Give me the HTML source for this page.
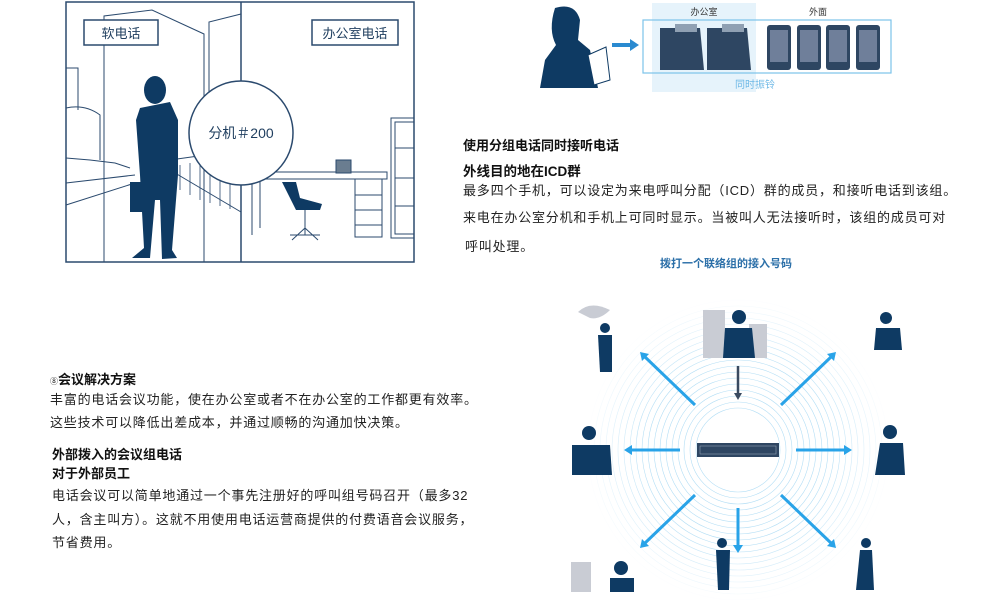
<!DOCTYPE html>
<html><head><meta charset="utf-8">
<style>
html,body{margin:0;padding:0;background:#fff;}
body{width:990px;height:600px;position:relative;overflow:hidden;font-family:"Liberation Sans","Noto Sans CJK SC",sans-serif;color:#222;}
.t{position:absolute;white-space:nowrap;font-size:13px;}
.b{font-weight:bold;color:#111;}
svg{position:absolute;left:0;top:0;}
</style></head><body>
<svg width="990" height="600" viewBox="0 0 990 600">
<defs>
<radialGradient id="fade" cx="0.5" cy="0.5" r="0.5"><stop offset="0.6" stop-color="#fff" stop-opacity="0"/><stop offset="1" stop-color="#fff" stop-opacity="1"/></radialGradient>
</defs>
<!-- left illustration -->
<g fill="none" stroke="#2b4a6e" stroke-width="1">
<rect x="66" y="2" width="348" height="260" stroke-width="1.5"/>
<line x1="241" y1="2" x2="241" y2="262" stroke-width="1.5"/>
<polyline points="104,262 104,16 152,10 204,34 204,262"/>
<polyline points="209,100 209,22 241,14"/>
<polyline points="66,68 78,68 78,110"/>
<path d="M66,108 Q85,104 100,115 L100,160"/>
<path d="M66,158 L90,160 L115,163 L130,168"/>
<line x1="66" y1="183" x2="135" y2="175"/>
<line x1="66" y1="205" x2="135" y2="183"/>
<line x1="170" y1="170" x2="241" y2="212"/>
<path d="M170,160 L241,150"/>
<g stroke-width="0.8"><line x1="180" y1="165" x2="180" y2="190"/><line x1="190" y1="163" x2="190" y2="195"/><line x1="200" y1="162" x2="200" y2="200"/><line x1="210" y1="161" x2="210" y2="203"/><line x1="220" y1="160" x2="220" y2="206"/><line x1="230" y1="160" x2="230" y2="209"/></g>
<rect x="255" y="172" width="132" height="7"/>
<line x1="252" y1="179" x2="252" y2="235"/><line x1="260" y1="179" x2="260" y2="228"/>
<rect x="355" y="179" width="27" height="58"/>
<line x1="355" y1="195" x2="382" y2="195"/><line x1="355" y1="210" x2="382" y2="210"/><line x1="355" y1="225" x2="382" y2="225"/>
<rect x="391" y="118" width="23" height="120"/>
<rect x="395" y="122" width="19" height="112"/>
<line x1="395" y1="148" x2="414" y2="148"/><line x1="395" y1="178" x2="414" y2="178"/><line x1="395" y1="206" x2="414" y2="206"/>
<path d="M305,202 L305,235 M290,235 L320,235 M305,228 L292,240 M305,228 L318,240"/>
</g>
<path d="M282,182 L296,182 L300,198 L322,204 L320,210 L296,210 Z" fill="#0e3a63"/>
<rect x="336" y="160" width="15" height="13" fill="#6a7d90" stroke="#2b4a6e"/>
<g fill="#0e3a63">
<ellipse cx="155" cy="90" rx="11" ry="14"/>
<path d="M140,108 L170,102 L178,120 L178,175 L172,250 L177,258 L162,259 L160,200 L155,200 L150,258 L132,258 L144,248 L140,175 L136,120 Z"/>
<rect x="130" y="182" width="12" height="30"/>
</g>
<rect x="84" y="20" width="74" height="25" fill="#fff" stroke="#2b4a6e" stroke-width="1.5"/>
<text x="121" y="38" font-size="13" fill="#1e3d5e" text-anchor="middle" font-family="Liberation Sans,Noto Sans CJK SC,sans-serif">软电话</text>
<rect x="312" y="20" width="86" height="25" fill="#fff" stroke="#2b4a6e" stroke-width="1.5"/>
<text x="355" y="38" font-size="13" fill="#1e3d5e" text-anchor="middle" font-family="Liberation Sans,Noto Sans CJK SC,sans-serif">办公室电话</text>
<circle cx="241" cy="133" r="52" fill="#fff" stroke="#2b4a6e" stroke-width="1.5"/>
<text x="241" y="138" font-size="14" fill="#1e3d5e" text-anchor="middle" font-family="Liberation Sans,Noto Sans CJK SC,sans-serif">分机＃200</text>

<!-- top right -->
<rect x="652" y="3" width="104" height="89" fill="#e6f3fb"/>
<rect x="643" y="20" width="248" height="53" fill="none" stroke="#7cc3ea" stroke-width="1.2"/>
<text x="704" y="15" font-size="9" fill="#333" text-anchor="middle" font-family="Liberation Sans,Noto Sans CJK SC,sans-serif">办公室</text>
<text x="818" y="15" font-size="9" fill="#333" text-anchor="middle" font-family="Liberation Sans,Noto Sans CJK SC,sans-serif">外面</text>
<text x="755" y="88" font-size="10" fill="#6db8e6" text-anchor="middle" font-family="Liberation Sans,Noto Sans CJK SC,sans-serif">同时振铃</text>
<g fill="#2e4662">
<path d="M660,28 L700,28 L704,70 L660,70 Z"/><path d="M707,28 L747,28 L751,70 L707,70 Z"/>
</g>
<g fill="#8fa0b3"><rect x="675" y="24" width="22" height="8"/><rect x="722" y="24" width="22" height="8"/></g>
<g fill="#2e4662">
<rect x="767" y="25" width="24" height="45" rx="3"/><rect x="797" y="25" width="24" height="45" rx="3"/><rect x="826" y="25" width="24" height="45" rx="3"/><rect x="856" y="25" width="24" height="45" rx="3"/>
</g>
<g fill="#6f7f9a"><rect x="770" y="30" width="18" height="32"/><rect x="800" y="30" width="18" height="32"/><rect x="829" y="30" width="18" height="32"/><rect x="859" y="30" width="18" height="32"/></g>
<path d="M612,43 L630,43 L630,39 L639,45 L630,51 L630,47 L612,47 Z" fill="#2a8ad0"/>
<g fill="#0e3a63">
<path d="M555,8 Q575,2 580,20 L578,40 L590,50 L598,88 L540,88 L545,60 L556,45 Q548,30 555,8 Z"/>
</g>
<path d="M588,55 L606,47 L610,80 L594,85 Z" fill="#fff" stroke="#0e3a63"/>

<!-- bottom right diagram -->
<g fill="none" stroke="#b3def5" stroke-width="0.6">
<circle cx="738" cy="450" r="42"/><circle cx="738" cy="450" r="48"/><circle cx="738" cy="450" r="54"/><circle cx="738" cy="450" r="60"/><circle cx="738" cy="450" r="66"/><circle cx="738" cy="450" r="72"/><circle cx="738" cy="450" r="78"/><circle cx="738" cy="450" r="84"/><circle cx="738" cy="450" r="90"/><circle cx="738" cy="450" r="96"/><circle cx="738" cy="450" r="102"/><circle cx="738" cy="450" r="108"/><circle cx="738" cy="450" r="114"/><circle cx="738" cy="450" r="120"/><circle cx="738" cy="450" r="126"/><circle cx="738" cy="450" r="132"/><circle cx="738" cy="450" r="138"/><circle cx="738" cy="450" r="144"/><circle cx="738" cy="450" r="150"/>
</g>
<circle cx="738" cy="450" r="152" fill="url(#fade)"/>
<g stroke="#29a3e8" stroke-width="3" fill="#29a3e8">
<line x1="680" y1="450" x2="630" y2="450"/><path d="M624,450 L632,445 L632,455 Z" stroke="none"/>
<line x1="796" y1="450" x2="846" y2="450"/><path d="M852,450 L844,445 L844,455 Z" stroke="none"/>
<line x1="738" y1="508" x2="738" y2="547"/><path d="M738,553 L733,545 L743,545 Z" stroke="none"/>
<line x1="695" y1="405" x2="644" y2="356"/><path d="M640,352 L649,354 L642,361 Z" stroke="none"/>
<line x1="781" y1="405" x2="832" y2="356"/><path d="M836,352 L827,354 L834,361 Z" stroke="none"/>
<line x1="695" y1="495" x2="644" y2="544"/><path d="M640,548 L642,539 L649,546 Z" stroke="none"/>
<line x1="781" y1="495" x2="832" y2="544"/><path d="M836,548 L834,539 L827,546 Z" stroke="none"/>
</g>
<line x1="738" y1="366" x2="738" y2="395" stroke="#3a4a60" stroke-width="2.5"/><path d="M738,400 L734,393 L742,393 Z" fill="#3a4a60"/>
<rect x="697" y="443" width="82" height="14" fill="#2e4662"/>
<rect x="700" y="446" width="76" height="8" fill="none" stroke="#8fa0b3" stroke-width="0.6"/>
<g fill="#c9ccd4"><rect x="703" y="310" width="22" height="48"/><rect x="749" y="324" width="18" height="34"/><rect x="571" y="562" width="20" height="30"/><path d="M578,312 Q590,300 610,310 Q600,320 590,318 Z"/></g>
<g fill="#0e3a63">
<circle cx="739" cy="317" r="7"/><path d="M725,328 L752,328 L755,358 L723,358 Z"/>
<circle cx="605" cy="328" r="5"/><path d="M598,335 L612,335 L612,372 L600,372 Z"/>
<circle cx="886" cy="318" r="6"/><path d="M876,328 L900,328 L902,350 L874,350 Z"/>
<circle cx="589" cy="433" r="7"/><path d="M572,445 L610,445 L612,475 L572,475 Z"/>
<circle cx="890" cy="432" r="7"/><path d="M880,443 L903,443 L905,475 L875,475 Z"/>
<circle cx="722" cy="543" r="5"/><path d="M716,550 L730,550 L729,590 L718,590 Z"/>
<circle cx="866" cy="543" r="5"/><path d="M860,550 L872,550 L874,590 L856,590 Z"/>
<circle cx="621" cy="568" r="7"/><path d="M610,578 L634,578 L634,592 L610,592 Z"/>
</g>
</svg>

<div class="t b" style="left:463px;top:135px;">使用分组电话同时接听电话</div>
<div class="t b" style="left:463px;top:160px;font-size:13.5px;">外线目的地在ICD群</div>
<div class="t" style="left:463px;top:180px;letter-spacing:0.8px;">最多四个手机，可以设定为来电呼叫分配（ICD）群的成员，和接听电话到该组。</div>
<div class="t" style="left:463px;top:207px;letter-spacing:0.8px;">来电在办公室分机和手机上可同时显示。当被叫人无法接听时，该组的成员可对</div>
<div class="t" style="left:465px;top:236px;letter-spacing:0.8px;">呼叫处理。</div>
<div class="t" style="left:660px;top:255px;font-size:11px;color:#2b6fa8;font-weight:bold;">拨打一个联络组的接入号码</div>

<div class="t b" style="left:50px;top:369px;"><span style="font-size:8px;font-weight:normal">⑧</span>会议解决方案</div>
<div class="t" style="left:50px;top:389px;letter-spacing:0.8px;">丰富的电话会议功能，使在办公室或者不在办公室的工作都更有效率。</div>
<div class="t" style="left:50px;top:412px;letter-spacing:0.8px;">这些技术可以降低出差成本，并通过顺畅的沟通加快决策。</div>
<div class="t b" style="left:52px;top:444px;">外部拨入的会议组电话</div>
<div class="t b" style="left:52px;top:463px;">对于外部员工</div>
<div class="t" style="left:52px;top:485px;letter-spacing:0.8px;">电话会议可以简单地通过一个事先注册好的呼叫组号码召开（最多32</div>
<div class="t" style="left:52px;top:509px;letter-spacing:0.8px;">人，含主叫方）。这就不用使用电话运营商提供的付费语音会议服务，</div>
<div class="t" style="left:52px;top:532px;letter-spacing:0.8px;">节省费用。</div>
</body></html>
